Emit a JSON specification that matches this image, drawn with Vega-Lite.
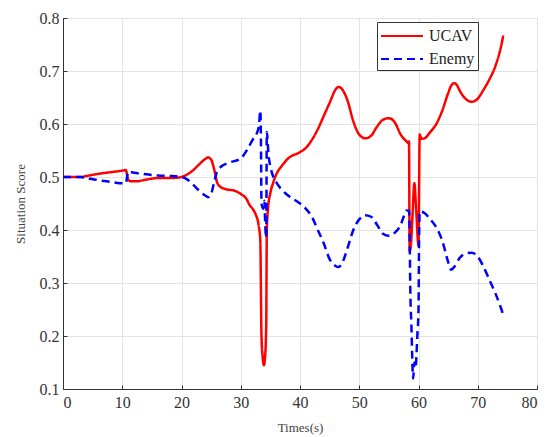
{
  "$schema": "https://vega.github.io/schema/vega-lite/v6.json",
  "autosize": "none",
  "width": 474,
  "height": 371,
  "padding": {"left": 63, "top": 18, "right": 10, "bottom": 48},
  "background": "white",
  "config": {
    "font": "Liberation Serif",
    "view": {"stroke": "#d9d9d9", "strokeWidth": 1},
    "axis": {
      "gridColor": "#e3e3e3",
      "gridWidth": 1,
      "domainColor": "#333333",
      "tickColor": "#333333",
      "tickSize": -4,
      "labelColor": "#333333",
      "titleFontSize": 13,
      "titleFontWeight": "normal",
      "titleColor": "#444444"
    }
  },
  "data": {
    "values": [
      {"t": 0, "s": 0.5, "series": "UCAV"},
      {"t": 3, "s": 0.5, "series": "UCAV"},
      {"t": 4, "s": 0.502, "series": "UCAV"},
      {"t": 6, "s": 0.506, "series": "UCAV"},
      {"t": 8, "s": 0.509, "series": "UCAV"},
      {"t": 10, "s": 0.512, "series": "UCAV"},
      {"t": 10.6, "s": 0.513, "series": "UCAV"},
      {"t": 11, "s": 0.495, "series": "UCAV"},
      {"t": 11.5, "s": 0.492, "series": "UCAV"},
      {"t": 12.5, "s": 0.492, "series": "UCAV"},
      {"t": 14, "s": 0.495, "series": "UCAV"},
      {"t": 16, "s": 0.498, "series": "UCAV"},
      {"t": 18, "s": 0.498, "series": "UCAV"},
      {"t": 19.5, "s": 0.499, "series": "UCAV"},
      {"t": 20, "s": 0.5, "series": "UCAV"},
      {"t": 21, "s": 0.505, "series": "UCAV"},
      {"t": 22, "s": 0.513, "series": "UCAV"},
      {"t": 23, "s": 0.524, "series": "UCAV"},
      {"t": 24, "s": 0.534, "series": "UCAV"},
      {"t": 24.5, "s": 0.537, "series": "UCAV"},
      {"t": 25, "s": 0.533, "series": "UCAV"},
      {"t": 25.5, "s": 0.515, "series": "UCAV"},
      {"t": 26, "s": 0.49, "series": "UCAV"},
      {"t": 26.5, "s": 0.482, "series": "UCAV"},
      {"t": 27.5, "s": 0.477, "series": "UCAV"},
      {"t": 29, "s": 0.474, "series": "UCAV"},
      {"t": 30, "s": 0.468, "series": "UCAV"},
      {"t": 31, "s": 0.458, "series": "UCAV"},
      {"t": 31.5, "s": 0.447, "series": "UCAV"},
      {"t": 32, "s": 0.44, "series": "UCAV"},
      {"t": 32.5, "s": 0.43, "series": "UCAV"},
      {"t": 33, "s": 0.41, "series": "UCAV"},
      {"t": 33.3, "s": 0.38, "series": "UCAV"},
      {"t": 33.5, "s": 0.2, "series": "UCAV"},
      {"t": 33.7, "s": 0.16, "series": "UCAV"},
      {"t": 33.9, "s": 0.145, "series": "UCAV"},
      {"t": 34.1, "s": 0.16, "series": "UCAV"},
      {"t": 34.3, "s": 0.22, "series": "UCAV"},
      {"t": 34.4, "s": 0.4, "series": "UCAV"},
      {"t": 34.6, "s": 0.44, "series": "UCAV"},
      {"t": 35, "s": 0.47, "series": "UCAV"},
      {"t": 35.5, "s": 0.49, "series": "UCAV"},
      {"t": 36, "s": 0.505, "series": "UCAV"},
      {"t": 37, "s": 0.522, "series": "UCAV"},
      {"t": 38, "s": 0.535, "series": "UCAV"},
      {"t": 40, "s": 0.547, "series": "UCAV"},
      {"t": 41, "s": 0.555, "series": "UCAV"},
      {"t": 42, "s": 0.57, "series": "UCAV"},
      {"t": 43, "s": 0.59, "series": "UCAV"},
      {"t": 44, "s": 0.615, "series": "UCAV"},
      {"t": 45, "s": 0.64, "series": "UCAV"},
      {"t": 46, "s": 0.665, "series": "UCAV"},
      {"t": 46.5, "s": 0.67, "series": "UCAV"},
      {"t": 47, "s": 0.667, "series": "UCAV"},
      {"t": 48, "s": 0.645, "series": "UCAV"},
      {"t": 49, "s": 0.605, "series": "UCAV"},
      {"t": 50, "s": 0.58, "series": "UCAV"},
      {"t": 51, "s": 0.573, "series": "UCAV"},
      {"t": 52, "s": 0.578, "series": "UCAV"},
      {"t": 53, "s": 0.595, "series": "UCAV"},
      {"t": 54, "s": 0.608, "series": "UCAV"},
      {"t": 55, "s": 0.611, "series": "UCAV"},
      {"t": 56, "s": 0.603, "series": "UCAV"},
      {"t": 57, "s": 0.58, "series": "UCAV"},
      {"t": 58, "s": 0.567, "series": "UCAV"},
      {"t": 58.3, "s": 0.564, "series": "UCAV"},
      {"t": 58.4, "s": 0.567, "series": "UCAV"},
      {"t": 58.5, "s": 0.36, "series": "UCAV"},
      {"t": 58.7, "s": 0.37, "series": "UCAV"},
      {"t": 59, "s": 0.43, "series": "UCAV"},
      {"t": 59.3, "s": 0.488, "series": "UCAV"},
      {"t": 59.6, "s": 0.44, "series": "UCAV"},
      {"t": 60, "s": 0.37, "series": "UCAV"},
      {"t": 60.2, "s": 0.58, "series": "UCAV"},
      {"t": 60.5, "s": 0.572, "series": "UCAV"},
      {"t": 61, "s": 0.573, "series": "UCAV"},
      {"t": 62, "s": 0.585, "series": "UCAV"},
      {"t": 63, "s": 0.6, "series": "UCAV"},
      {"t": 64, "s": 0.625, "series": "UCAV"},
      {"t": 65, "s": 0.658, "series": "UCAV"},
      {"t": 65.5, "s": 0.672, "series": "UCAV"},
      {"t": 66, "s": 0.677, "series": "UCAV"},
      {"t": 66.5, "s": 0.673, "series": "UCAV"},
      {"t": 67, "s": 0.662, "series": "UCAV"},
      {"t": 68, "s": 0.647, "series": "UCAV"},
      {"t": 69, "s": 0.642, "series": "UCAV"},
      {"t": 70, "s": 0.648, "series": "UCAV"},
      {"t": 71, "s": 0.665, "series": "UCAV"},
      {"t": 72, "s": 0.685, "series": "UCAV"},
      {"t": 73, "s": 0.71, "series": "UCAV"},
      {"t": 74, "s": 0.75, "series": "UCAV"},
      {"t": 74.3, "s": 0.767, "series": "UCAV"},
      {"t": 0, "s": 0.5, "series": "Enemy"},
      {"t": 3, "s": 0.5, "series": "Enemy"},
      {"t": 4, "s": 0.498, "series": "Enemy"},
      {"t": 6, "s": 0.494, "series": "Enemy"},
      {"t": 8, "s": 0.491, "series": "Enemy"},
      {"t": 10, "s": 0.488, "series": "Enemy"},
      {"t": 10.6, "s": 0.488, "series": "Enemy"},
      {"t": 11, "s": 0.51, "series": "Enemy"},
      {"t": 12, "s": 0.508, "series": "Enemy"},
      {"t": 14, "s": 0.505, "series": "Enemy"},
      {"t": 16, "s": 0.503, "series": "Enemy"},
      {"t": 18, "s": 0.502, "series": "Enemy"},
      {"t": 20, "s": 0.5, "series": "Enemy"},
      {"t": 21, "s": 0.495, "series": "Enemy"},
      {"t": 22, "s": 0.485, "series": "Enemy"},
      {"t": 23, "s": 0.474, "series": "Enemy"},
      {"t": 24, "s": 0.465, "series": "Enemy"},
      {"t": 24.5, "s": 0.462, "series": "Enemy"},
      {"t": 25, "s": 0.468, "series": "Enemy"},
      {"t": 25.5, "s": 0.49, "series": "Enemy"},
      {"t": 26, "s": 0.51, "series": "Enemy"},
      {"t": 27, "s": 0.522, "series": "Enemy"},
      {"t": 28, "s": 0.527, "series": "Enemy"},
      {"t": 30, "s": 0.535, "series": "Enemy"},
      {"t": 31, "s": 0.55, "series": "Enemy"},
      {"t": 32, "s": 0.57, "series": "Enemy"},
      {"t": 32.8, "s": 0.585, "series": "Enemy"},
      {"t": 33.1, "s": 0.6, "series": "Enemy"},
      {"t": 33.3, "s": 0.625, "series": "Enemy"},
      {"t": 33.4, "s": 0.58, "series": "Enemy"},
      {"t": 33.5, "s": 0.45, "series": "Enemy"},
      {"t": 33.8, "s": 0.44, "series": "Enemy"},
      {"t": 34, "s": 0.455, "series": "Enemy"},
      {"t": 34.1, "s": 0.42, "series": "Enemy"},
      {"t": 34.3, "s": 0.385, "series": "Enemy"},
      {"t": 34.4, "s": 0.585, "series": "Enemy"},
      {"t": 34.7, "s": 0.54, "series": "Enemy"},
      {"t": 35, "s": 0.52, "series": "Enemy"},
      {"t": 35.5, "s": 0.5, "series": "Enemy"},
      {"t": 36, "s": 0.49, "series": "Enemy"},
      {"t": 37, "s": 0.475, "series": "Enemy"},
      {"t": 38, "s": 0.465, "series": "Enemy"},
      {"t": 40, "s": 0.45, "series": "Enemy"},
      {"t": 41, "s": 0.44, "series": "Enemy"},
      {"t": 42, "s": 0.425, "series": "Enemy"},
      {"t": 43, "s": 0.4, "series": "Enemy"},
      {"t": 44, "s": 0.375, "series": "Enemy"},
      {"t": 45, "s": 0.345, "series": "Enemy"},
      {"t": 46, "s": 0.332, "series": "Enemy"},
      {"t": 46.5, "s": 0.33, "series": "Enemy"},
      {"t": 47, "s": 0.335, "series": "Enemy"},
      {"t": 48, "s": 0.365, "series": "Enemy"},
      {"t": 49, "s": 0.4, "series": "Enemy"},
      {"t": 50, "s": 0.42, "series": "Enemy"},
      {"t": 51, "s": 0.428, "series": "Enemy"},
      {"t": 52, "s": 0.425, "series": "Enemy"},
      {"t": 53, "s": 0.41, "series": "Enemy"},
      {"t": 54, "s": 0.393, "series": "Enemy"},
      {"t": 55, "s": 0.389, "series": "Enemy"},
      {"t": 56, "s": 0.395, "series": "Enemy"},
      {"t": 57, "s": 0.41, "series": "Enemy"},
      {"t": 57.5, "s": 0.425, "series": "Enemy"},
      {"t": 58, "s": 0.437, "series": "Enemy"},
      {"t": 58.4, "s": 0.436, "series": "Enemy"},
      {"t": 58.5, "s": 0.4, "series": "Enemy"},
      {"t": 58.6, "s": 0.3, "series": "Enemy"},
      {"t": 58.8, "s": 0.22, "series": "Enemy"},
      {"t": 59.1, "s": 0.12, "series": "Enemy"},
      {"t": 59.3, "s": 0.15, "series": "Enemy"},
      {"t": 59.5, "s": 0.14, "series": "Enemy"},
      {"t": 59.8, "s": 0.2, "series": "Enemy"},
      {"t": 60, "s": 0.25, "series": "Enemy"},
      {"t": 60.1, "s": 0.38, "series": "Enemy"},
      {"t": 60.2, "s": 0.435, "series": "Enemy"},
      {"t": 61, "s": 0.432, "series": "Enemy"},
      {"t": 62, "s": 0.42, "series": "Enemy"},
      {"t": 63, "s": 0.405, "series": "Enemy"},
      {"t": 64, "s": 0.38, "series": "Enemy"},
      {"t": 65, "s": 0.34, "series": "Enemy"},
      {"t": 65.5, "s": 0.325, "series": "Enemy"},
      {"t": 66, "s": 0.33, "series": "Enemy"},
      {"t": 67, "s": 0.348, "series": "Enemy"},
      {"t": 68, "s": 0.356, "series": "Enemy"},
      {"t": 69, "s": 0.357, "series": "Enemy"},
      {"t": 70, "s": 0.35, "series": "Enemy"},
      {"t": 71, "s": 0.33, "series": "Enemy"},
      {"t": 72, "s": 0.305, "series": "Enemy"},
      {"t": 73, "s": 0.28, "series": "Enemy"},
      {"t": 74, "s": 0.25, "series": "Enemy"},
      {"t": 74.3, "s": 0.24, "series": "Enemy"}
    ]
  },
  "mark": {"type": "line", "strokeWidth": 2.5, "interpolate": "monotone", "clip": true},
  "encoding": {
    "x": {
      "field": "t", "type": "quantitative", "title": "Times(s)",
      "scale": {"domain": [0, 80], "nice": false},
      "axis": {"values": [0, 10, 20, 30, 40, 50, 60, 70, 80], "labelPadding": 9, "titlePadding": 11, "labelFont": "Liberation Serif", "labelFontSize": 16, "titleFont": "Liberation Serif"}
    },
    "y": {
      "field": "s", "type": "quantitative", "title": "Situation Score",
      "scale": {"domain": [0.1, 0.8], "nice": false, "zero": false},
      "axis": {"values": [0.1, 0.2, 0.3, 0.4, 0.5, 0.6, 0.7, 0.8], "format": ".1f", "labelPadding": 8, "titlePadding": 12, "labelFont": "Liberation Serif", "labelFontSize": 16, "titleFont": "Liberation Serif"}
    },
    "color": {
      "field": "series", "type": "nominal",
      "scale": {"domain": ["UCAV", "Enemy"], "range": ["#ff0000", "#0000ff"]},
      "legend": {
        "title": null,
        "orient": "none",
        "legendX": 314,
        "legendY": 4,
        "symbolType": "M-1,0H3.2",
        "symbolSize": 400,
        "symbolStrokeWidth": 2,
        "labelFontSize": 16,
        "labelColor": "#222222",
        "labelFont": "Liberation Serif",
        "labelOffset": 27,
        "strokeColor": "#333333",
        "fillColor": "white",
        "padding": 3,
        "rowPadding": 4
      }
    },
    "strokeDash": {
      "field": "series", "type": "nominal",
      "scale": {"domain": ["UCAV", "Enemy"], "range": [[1, 0], [8, 5]]},
      "legend": null
    }
  }
}
